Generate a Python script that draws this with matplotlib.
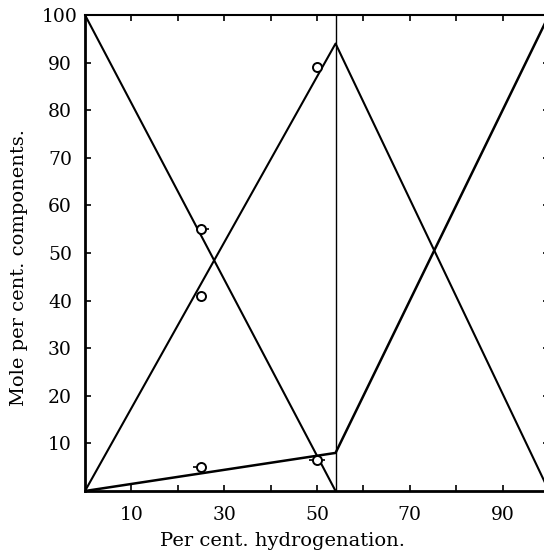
####################
## MODULE IMPORTS ##
####################

import numpy as np
import matplotlib
matplotlib.use('Agg')
import matplotlib.pyplot as plt

##########
## DATA ##
##########

# break point of the composition curves (per cent hydrogenation)
xBreak = 54

# theoretical lines
xA = [0, xBreak]
yA = [100, 0]
xB = [0, xBreak, 100]
yB = [0, 94, 0]
xC = [0, xBreak, 100]
yC = [0, 8, 100]
xV = [xBreak, xBreak]
yV = [0, 100]

# measured points
xObs = [25, 25, 25, 50, 50]
yObs = [55, 41, 5, 6.5, 89]
xErrLow = [0, 0, 1.8, 1.8, 0]
xErrHigh = [1.8, 0, 0, 1.8, 0]

# ticks
Xticks = np.arange(10, 90 + 1, 10)
Xlabels = ['10', '', '30', '', '50', '', '70', '', '90']
Yticks = np.arange(10, 100 + 1, 10)
Ylabels = [str(v) for v in Yticks]

###############
## VISUALIZE ##
###############

plt.rcParams['font.family'] = 'DejaVu Serif'

fig = plt.figure(figsize=(5.44, 5.52), dpi=100)
ax = fig.add_axes([85 / 544, 61 / 552, 464 / 544, 476 / 552])

ax.plot(xA, yA, color='black', lw=1.5)
ax.plot(xB, yB, color='black', lw=1.5)
ax.plot(xC, yC, color='black', lw=1.8)
ax.plot(xV, yV, color='black', lw=1.0)
ax.errorbar(xObs, yObs, xerr=[xErrLow, xErrHigh], fmt='o', ms=6.5,
            mfc='white', mec='black', mew=1.4, ecolor='black', elinewidth=1.2,
            capsize=0, zorder=5)

ax.set_xlim(0, 100)
ax.set_ylim(0, 100)
ax.set_xticks(Xticks)
ax.set_xticklabels(Xlabels)
ax.set_yticks(Yticks)
ax.set_yticklabels(Ylabels)
ax.tick_params(direction='in', length=4, width=1.2, top=True, right=True,
               labelsize=13.5)
ax.tick_params(axis='y', pad=18)
ax.tick_params(axis='x', pad=11)
for lab in ax.get_yticklabels():
    lab.set_horizontalalignment('center')

for side in ['left', 'bottom']:
    ax.spines[side].set_linewidth(2.0)
for side in ['top', 'right']:
    ax.spines[side].set_linewidth(1.5)

fig.text(282 / 544, 1 - 541 / 552, 'Per cent. hydrogenation.', fontsize=14,
         ha='center', va='center')
fig.text(19 / 544, 1 - 267 / 552, 'Mole per cent. components.', fontsize=14,
         ha='center', va='center', rotation=90)

fig.savefig('out.png', dpi=100)
